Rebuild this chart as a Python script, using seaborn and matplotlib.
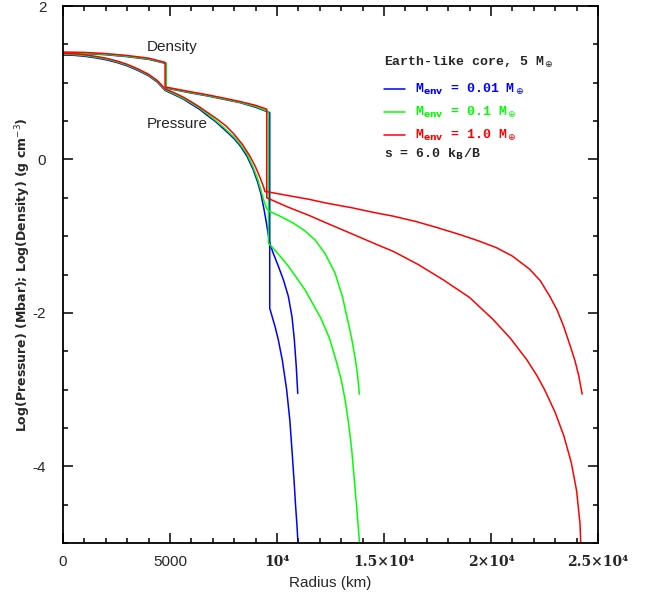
import matplotlib
matplotlib.use('Agg')
import matplotlib.pyplot as plt
import seaborn as sns
from matplotlib.ticker import MultipleLocator

# log10 values, radius in km
# M_env = 0.01 M_earth
blue_p_r = [0, 500, 1000, 1500, 2000, 2500, 3000, 3500, 4000, 4400, 4770, 5150, 5600, 6000, 6400,
            6710, 7100, 7500, 8000, 8300, 8600, 8900, 9100, 9250, 9400, 9500, 9580, 9660,
            9820, 10060, 10300, 10530, 10700, 10810, 10900, 10970]
blue_p = [1.36, 1.357, 1.345, 1.325, 1.30, 1.265, 1.22, 1.16, 1.09, 1.01, 0.90, 0.85, 0.79, 0.72, 0.65,
          0.58, 0.50, 0.40, 0.27, 0.17, 0.04, -0.14, -0.30, -0.45, -0.66, -0.82, -0.96, -1.09,
          -1.22, -1.39, -1.57, -1.785, -2.05, -2.35, -2.70, -3.05]
blue_rho_r = [0, 1000, 2000, 3000, 4000, 4820, 4820, 6000, 6710, 7500, 8270, 9000, 9660, 9660,
              9910, 10060, 10250, 10450, 10600, 10720, 10800, 10870, 10940, 10970, 11000]
blue_rho = [1.385, 1.38, 1.365, 1.34, 1.305, 1.25, 0.93, 0.865, 0.83, 0.785, 0.74, 0.68, 0.61, -1.94,
            -2.18, -2.35, -2.62, -3.0, -3.40, -3.87, -4.20, -4.52, -4.80, -4.95, -5.3]

# M_env = 0.1 M_earth
green_p_r = [0, 500, 1000, 1500, 2000, 2500, 3000, 3500, 4000, 4400, 4770, 5150, 5600, 6000, 6400,
             6710, 7100, 7500, 8000, 8300, 8600, 8900, 9100, 9250, 9400, 9500, 9600,
             10140, 10760, 11300, 11780, 12250, 12710, 13050, 13330, 13500, 13640, 13760, 13850]
green_p = [1.37, 1.367, 1.355, 1.335, 1.31, 1.275, 1.23, 1.17, 1.10, 1.02, 0.91, 0.86, 0.80, 0.735, 0.665,
           0.60, 0.515, 0.42, 0.29, 0.19, 0.07, -0.11, -0.26, -0.40, -0.55, -0.63, -0.67,
           -0.74, -0.83, -0.93, -1.05, -1.23, -1.48, -1.78, -2.13, -2.35, -2.57, -2.80, -3.06]
green_rho_r = [0, 1000, 2000, 3000, 4000, 4820, 4820, 6000, 6710, 7500, 8270, 9000, 9600, 9600,
               10050, 10530, 11310, 12050, 12450, 12750, 13000, 13180, 13350, 13490, 13620, 13720,
               13800, 13850, 13870]
green_rho = [1.39, 1.385, 1.37, 1.345, 1.31, 1.255, 0.935, 0.87, 0.835, 0.79, 0.745, 0.69, 0.625, -1.09,
             -1.23, -1.39, -1.70, -2.07, -2.33, -2.61, -2.87, -3.13, -3.45, -3.78, -4.20, -4.52,
             -4.80, -4.98, -5.3]

# M_env = 1.0 M_earth
red_p_r = [0, 500, 1000, 1500, 2000, 2500, 3000, 3500, 4000, 4400, 4770, 5150, 5600, 6000, 6400,
           6710, 7180, 7600, 7960, 8400, 8740, 9000, 9210, 9350, 9440, 9520,
           10500, 11500, 12320, 13500, 14500, 15440, 16500, 17500, 18550, 19400, 20250, 21000,
           21800, 22300, 22750, 23100, 23400, 23700, 23920, 24100, 24260]
red_p = [1.38, 1.377, 1.365, 1.345, 1.32, 1.285, 1.24, 1.18, 1.11, 1.03, 0.92, 0.875, 0.815, 0.75, 0.68,
         0.62, 0.53, 0.44, 0.34, 0.19, 0.04, -0.10, -0.24, -0.34, -0.42, -0.42,
         -0.47, -0.52, -0.57, -0.63, -0.69, -0.74, -0.81, -0.89, -0.98, -1.06, -1.15, -1.26,
         -1.43, -1.58, -1.785, -1.97, -2.18, -2.43, -2.62, -2.82, -3.06]
red_rho_r = [0, 1000, 2000, 3000, 4000, 4770, 4770, 6000, 6710, 7500, 8270, 9000, 9520, 9520,
             10500, 11500, 12320, 13500, 14500, 15440, 16600, 17770, 19000, 20110, 20900, 21670,
             22150, 22520, 23000, 23400, 23750, 24000, 24160, 24230]
red_rho = [1.40, 1.395, 1.38, 1.355, 1.32, 1.265, 0.945, 0.88, 0.845, 0.80, 0.755, 0.705, 0.655, -0.50,
           -0.62, -0.73, -0.83, -0.97, -1.09, -1.20, -1.37, -1.57, -1.80, -2.09, -2.33, -2.61,
           -2.82, -3.01, -3.30, -3.60, -3.95, -4.32, -4.75, -5.3]

models = ['0.01', '0.1', '1.0']
colors = ['#0000ff', '#00ff00', '#ff0000']
xticks = [0, 5000, 10000, 15000, 20000, 25000]
xticklabels = ['0', '5000', '10⁴', '1.5×10⁴', '2×10⁴', '2.5×10⁴']
yticks = [-4, -2, 0, 2]

sns.set_style('ticks')
plt.rcParams['font.family'] = ['Liberation Sans', 'DejaVu Sans']
plt.rcParams['axes.unicode_minus'] = False

fig = plt.figure(figsize=(6.45, 5.97), dpi=100)
ax = fig.add_axes([63 / 645, 1 - 543 / 597, 535 / 645, 537 / 597])

curves = [(blue_p_r, blue_p, blue_rho_r, blue_rho),
          (green_p_r, green_p, green_rho_r, green_rho),
          (red_p_r, red_p, red_rho_r, red_rho)]
handles = []
for (pr, p, rr, rho), c in zip(curves, colors):
    sns.lineplot(x=pr, y=p, sort=False, estimator=None, color=c, lw=1.1, ax=ax)
    sns.lineplot(x=rr, y=rho, sort=False, estimator=None, color=c, lw=1.1, ax=ax)
    handles.append(ax.lines[-1])

ax.set_xlim(0, 25000)
ax.set_ylim(-5, 2)
ax.set_xticks(xticks)
ax.set_xticklabels(xticklabels)
ax.set_yticks(yticks)
ax.xaxis.set_minor_locator(MultipleLocator(1000))
ax.yaxis.set_minor_locator(MultipleLocator(0.5))
ax.tick_params(which='both', direction='in', top=True, right=True, width=1.1, color='black')
ax.tick_params(which='major', length=7)
ax.tick_params(which='minor', length=3.6)
ax.tick_params(axis='x', which='major', pad=9, labelsize=11)
ax.tick_params(axis='y', which='major', pad=12, labelsize=11)
for i, lab in enumerate(ax.get_xticklabels()):
    if i >= 2:
        lab.set_fontweight('bold')
        lab.set_family(['DejaVu Serif', 'DejaVu Sans'])
        lab.set_fontsize(10)
for s in ax.spines.values():
    s.set_linewidth(1.3)
    s.set_color('black')

ax.set_xlabel('Radius (km)', fontsize=11)
ax.xaxis.set_label_coords(0.5, (543 - 583) / 537)
ax.xaxis.label.set_va('center')
ax.set_ylabel('Log(Pressure) (Mbar); Log(Density) (g cm$^{-3}$)', fontsize=9,
              fontweight='bold', family=['DejaVu Sans'])
ax.yaxis.set_label_coords((23 - 63) / 535, 0.5)
ax.yaxis.label.set_va('center')

ax.text(3930, 1.466, 'Density', fontsize=11, va='center', ha='left')
ax.text(3930, 0.464, 'Pressure', fontsize=11, va='center', ha='left')

mono = ['Liberation Mono', 'DejaVu Sans Mono']
labels = [f'M$_{{\\mathbf{{env}}}}$ = {m} M$_\\oplus$' for m in models]
leg = ax.legend(handles, labels, loc='upper left', bbox_to_anchor=(0.6, 0.858), frameon=False,
                borderaxespad=0, borderpad=0, handlelength=1.6, handletextpad=0.75,
                labelspacing=0.6, prop={'family': mono, 'size': 9.5, 'weight': 'bold'})
for t, c in zip(leg.get_texts(), colors):
    t.set_color(c)
ax.text(0.6, 0.894, 'Earth-like core, 5 M$_\\oplus$', transform=ax.transAxes, va='center',
        ha='left', family=mono, fontsize=9.5, fontweight='bold')
ax.text(0.6, 0.723, 's = 6.0 k$_\\mathbf{B}$/B', transform=ax.transAxes, va='center',
        ha='left', family=mono, fontsize=9.5, fontweight='bold')

fig.savefig('out.png', dpi=100)
